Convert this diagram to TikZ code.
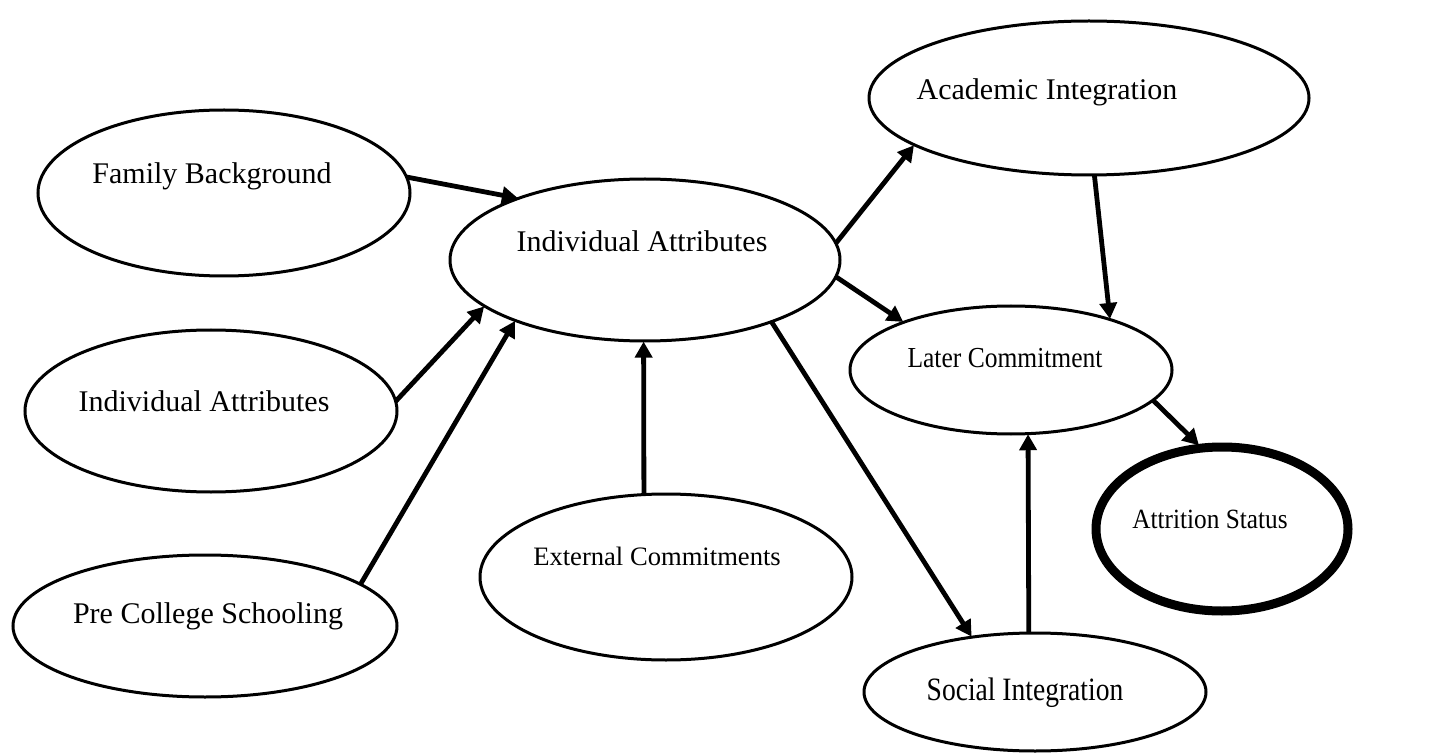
\documentclass[tikz,border=0pt]{standalone}
\usepackage{fontspec}
\setmainfont{Liberation Serif}
\usepackage{graphicx}
\usetikzlibrary{arrows.meta,shapes.geometric}
\begin{document}
\begin{tikzpicture}[x=0.5pt,y=-0.5pt,
  oval/.style 2 args={draw=black, line width=1.5pt, ellipse, inner sep=0pt, outer sep=0pt,
    minimum width=#1pt, minimum height=#2pt},
  lbl/.style={inner sep=0pt, anchor=base, font=\fontsize{15pt}{18pt}\selectfont},
  arr/.style={line width=2.4pt, -{Triangle[length=8pt,width=8.5pt]}, shorten >=0.3pt}]
\useasboundingbox (0,0) rectangle (1430,754);

% ovals
\node[oval={186}{83}] (fb)  at (224,193) {};
\node[oval={195}{81}] (ia)  at (645,260) {};
\node[oval={186}{81}] (ia2) at (211,411) {};
\node[oval={192}{71}] (pcs) at (205,626) {};
\node[oval={186}{83}] (ec)  at (666,577) {};
\node[oval={220}{77}] (ai)  at (1089,98) {};
\node[oval={161}{64}] (lc)  at (1011,370) {};
\node[oval={126}{82}, line width=4.5pt] (as) at (1222,529) {};
\node[oval={171}{59}] (si)  at (1035,692) {};

% labels
\node[lbl] (fb-t)  at (212,184) {Family Background};
\node[lbl] (ia-t)  at (642,252) {Individual Attributes};
\node[lbl] (ia2-t) at (204,411) {Individual Attributes};
\node[lbl] (pcs-t) at (208,623) {Pre College Schooling};
\node[lbl, font=\fontsize{13.3pt}{16pt}\selectfont] (ec-t) at (657,565) {External Commitments};
\node[lbl] (ai-t)  at (1047,100) {Academic Integration};
\node[lbl, font=\fontsize{14.5pt}{17pt}\selectfont] (lc-t) at (1005,367) {\scalebox{0.88}[1]{Later Commitment}};
\node[lbl, font=\fontsize{13.9pt}{17pt}\selectfont] (as-t) at (1210,528) {\scalebox{0.91}[1]{Attrition Status}};
\node[lbl, font=\fontsize{16.3pt}{19pt}\selectfont] (si-t) at (1025,700) {\scalebox{0.845}[1]{Social Integration}};

% connectors
\draw[arr] (fb.5)   -- (ia.154);
\draw[arr] (ia2.3)  -- (ia.196);
\draw[arr] (pcs.15) -- (ia.205);
\draw[arr] (ec.105) -- (ia.269);
\draw[arr] (ia.5)   -- (ai.195);
\draw[arr] (ia.355) -- (lc.156);
\draw[arr] (ia.334) -- (si.139);
\draw[arr] (ai.274) -- (lc.27);
\draw[arr] (si.96)  -- (lc.285);
\draw[arr, shorten >=2pt] (lc.348) -- (as.104);
\end{tikzpicture}
\end{document}
